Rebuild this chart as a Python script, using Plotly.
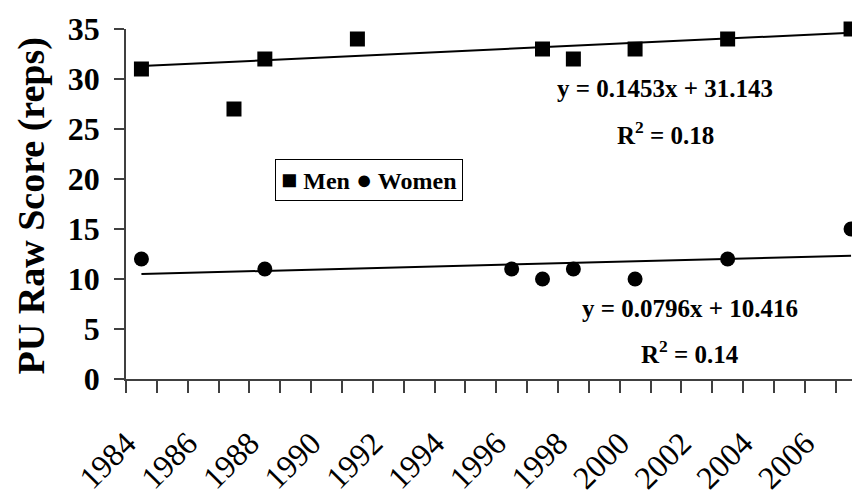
import plotly.graph_objects as go

# ---- data ----
years = list(range(1984, 2008))                 # category axis (24 categories)
men_years = [1984, 1987, 1988, 1991, 1997, 1998, 2000, 2003, 2007]
men_scores = [31, 27, 32, 34, 33, 32, 33, 34, 35]
women_years = [1984, 1988, 1996, 1997, 1998, 2000, 2003, 2007]
women_scores = [12, 11, 11, 10, 11, 10, 12, 15]
men_slope, men_intercept, men_r2 = 0.1453, 31.143, 0.18
women_slope, women_intercept, women_r2 = 0.0796, 10.416, 0.14
tick_labels = [str(y) for y in range(1984, 2007, 2)]
series_names = ["Men", "Women"]
y_title = "PU Raw Score (reps)"

FONT = "Liberation Serif"

cat_index = {y: i + 1 for i, y in enumerate(years)}
idx_all = [cat_index[y] for y in years]

fig = go.Figure()

# trendlines
fig.add_trace(go.Scatter(
    x=idx_all, y=[men_slope * i + men_intercept for i in idx_all],
    mode="lines", line=dict(color="black", width=2), showlegend=False, hoverinfo="skip"))
fig.add_trace(go.Scatter(
    x=idx_all, y=[women_slope * i + women_intercept for i in idx_all],
    mode="lines", line=dict(color="black", width=2), showlegend=False, hoverinfo="skip"))

# data points
fig.add_trace(go.Scatter(
    x=[cat_index[y] for y in men_years], y=men_scores, mode="markers", name=series_names[0],
    marker=dict(symbol="square", size=15, color="black"), cliponaxis=False, showlegend=False))
fig.add_trace(go.Scatter(
    x=[cat_index[y] for y in women_years], y=women_scores, mode="markers", name=series_names[1],
    marker=dict(symbol="circle", size=15, color="black"), cliponaxis=False, showlegend=False))

bold = dict(family=FONT, color="black", weight="bold")

# trendline equations
for txt, xp, yv in [
    (f"y = {men_slope}x + {men_intercept}", 0.735, 29.1),
    (f"R<sup>2</sup> = {men_r2}", 0.735, 24.6),
    (f"y = {women_slope}x + {women_intercept}", 0.768, 7.1),
    (f"R<sup>2</sup> = {women_r2}", 0.768, 2.7),
]:
    fig.add_annotation(xref="paper", yref="y", x=xp, y=yv, text=txt, showarrow=False,
                       xanchor="center", yanchor="middle", font=dict(size=25, **bold))

# legend box (compact, Excel-like)
sym = '<span style="font-size:27px">{}</span>'
fig.add_annotation(xref="paper", yref="paper", x=0.203, y=0.569,
                   xanchor="left", yanchor="middle", showarrow=False,
                   text=f"{sym.format('■')} {series_names[0]} {sym.format('●')} {series_names[1]}",
                   font=dict(size=24, **bold),
                   bordercolor="black", borderwidth=1, borderpad=5, bgcolor="white")

# y-axis title
fig.add_annotation(xref="paper", yref="paper", x=-0.129, y=0.494, textangle=-90,
                   xanchor="center", yanchor="middle", showarrow=False,
                   text=y_title, font=dict(size=38, **bold))

axis_color = "#404040"
fig.update_layout(
    width=852, height=489,
    margin=dict(l=118, r=0, t=21, b=118),
    paper_bgcolor="white", plot_bgcolor="white",
    font=dict(family=FONT, color="black"),
    showlegend=False,
    xaxis=dict(
        range=[0.5, 24.29], showgrid=False, zeroline=False, automargin=False,
        showline=True, linecolor=axis_color, linewidth=1.5,
        tickmode="array", tickvals=[cat_index[int(t)] for t in tick_labels],
        ticktext=tick_labels, ticks="", tickangle=-45,
        tickfont=dict(family=FONT, size=32, color="black"),
        ticklabelstandoff=31, ticklabelshift=-15,
        minor=dict(tickmode="array", tickvals=[i + 0.5 for i in range(0, 25)],
                   ticks="outside", ticklen=12, tickcolor=axis_color, tickwidth=1.5),
    ),
    yaxis=dict(
        range=[0, 35], showgrid=False, zeroline=False, automargin=False,
        showline=True, linecolor=axis_color, linewidth=1.5,
        tickmode="array", tickvals=[0, 5, 10, 15, 20, 25, 30, 35],
        ticks="outside", ticklen=10, tickcolor=axis_color, tickwidth=1.5,
        tickfont=dict(size=32, **bold), ticklabelstandoff=8,
    ),
)

fig.write_html("out.html")
